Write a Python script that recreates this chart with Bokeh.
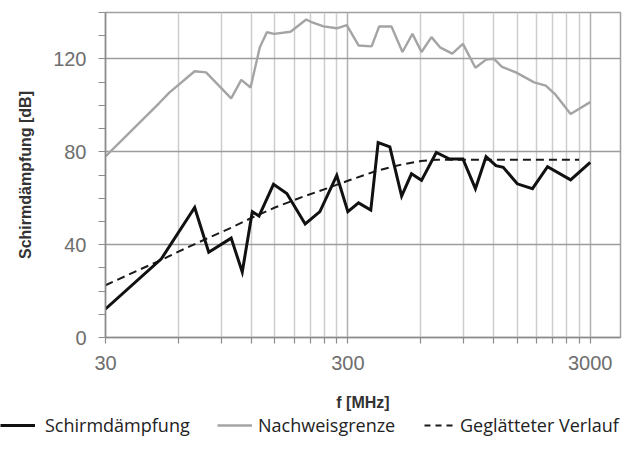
from bokeh.plotting import figure
from bokeh.layouts import column
from bokeh.models import FixedTicker, NumeralTickFormatter, Legend, LegendItem, Range1d
from bokeh.embed import file_html
from bokeh.resources import INLINE

# Schirmdämpfung (shielding attenuation)
f_sd = [30, 51, 70, 80, 99, 110, 121, 129, 148, 168, 200, 230, 270, 300, 332, 373,
        400, 447, 500, 549, 604, 695, 789, 895, 1008, 1115, 1225, 1313, 1500, 1733,
        2000, 2490, 3000]
db_sd = [12.3, 33.9, 56, 36.7, 42.8, 28.2, 54.2, 52.3, 66, 62, 48.9, 54.2, 69.8, 54.2,
         58, 54.9, 84, 82.1, 60.9, 70.5, 67.7, 79.7, 76.9, 76.9, 64.1, 77.9, 74, 73.3,
         66.2, 64.1, 73.6, 67.9, 75.4]

# Nachweisgrenze (detection limit)
f_nw = [30, 50, 55, 70, 78, 99, 109, 119, 130, 139, 149, 174, 202, 214, 238, 270, 297,
        332, 376, 404, 454, 504, 554, 604, 664, 720, 809, 895, 1008, 1115, 1200, 1298,
        1480, 1762, 1967, 2163, 2490, 3000]
db_nw = [78, 101, 105.5, 114.7, 114.2, 103, 111, 107.7, 125, 131.5, 130.8, 131.7, 137,
         135.7, 134, 133.2, 134.6, 125.8, 125.4, 134, 134, 123, 130.8, 123, 129.4, 125,
         122.3, 126.5, 116.2, 119.7, 120.1, 116.6, 114.2, 109.9, 108.5, 104.5, 96.3, 101.4]

# Geglätteter Verlauf (smoothed)
f_gv = [30, 40, 50, 60, 80, 100, 120, 150, 200, 250, 300, 400, 500, 600, 700, 2700]
db_gv = [22.5, 28.5, 33, 37, 43, 47.5, 51.5, 56, 61, 64.5, 67.5, 72, 74.5, 76, 76.6, 76.6]

x_ticks = [30, 300, 3000]
x_minor = [60, 90, 120, 150, 180, 210, 240, 270, 600, 900, 1200, 1500, 1800, 2100, 2400, 2700]
y_ticks = [0, 40, 80, 120]
y_minor = [10, 20, 30, 50, 60, 70, 90, 100, 110, 130, 140]

labels = ["Schirmdämpfung", "Nachweisgrenze", "Geglätteter Verlauf"]

STYLE_SD = dict(line_color="#111111", line_width=3)
STYLE_NW = dict(line_color="#a4a4a4", line_width=2.4)
STYLE_GV = dict(line_color="#1a1a1a", line_width=2, line_dash="8 5")

p = figure(width=624, height=413, x_axis_type="log",
           x_range=Range1d(30, 4000), y_range=Range1d(0, 140),
           output_backend="svg", toolbar_location=None,
           min_border_left=105, min_border_right=4, min_border_top=12, min_border_bottom=75)
p.background_fill_color = "white"
p.border_fill_color = "white"
p.outline_line_color = "#a0a0a0"
p.outline_line_width = 1.5

# grids
p.xgrid.ticker = FixedTicker(ticks=x_ticks, minor_ticks=x_minor)
p.xgrid.grid_line_color = "#b0b0b0"
p.xgrid.grid_line_width = 1.5
p.xgrid.minor_grid_line_color = "#cdcdcd"
p.xgrid.minor_grid_line_width = 1.5
p.ygrid.ticker = FixedTicker(ticks=y_ticks, minor_ticks=y_minor)
p.ygrid.grid_line_color = "#9c9c9c"
p.ygrid.grid_line_width = 1.5

# axes
for ax in (p.xaxis[0], p.yaxis[0]):
    ax.axis_line_color = "#8c8c8c"
    ax.axis_line_width = 1.5
    ax.major_tick_line_color = "#8c8c8c"
    ax.minor_tick_line_color = "#8c8c8c"
    ax.major_tick_line_width = 1.2
    ax.minor_tick_line_width = 1.2
    ax.major_tick_in = 0
    ax.minor_tick_in = 0
    ax.major_label_text_font = "Liberation Sans"
    ax.major_label_text_font_size = "20px"
    ax.major_label_text_color = "#6e6e6e"
    ax.axis_label_text_font = "Liberation Sans"
    ax.axis_label_text_font_style = "bold"
    ax.axis_label_text_color = "#333333"
    ax.axis_label_text_font_size = "16px"
    ax.formatter = NumeralTickFormatter(format="0")

p.xaxis.ticker = FixedTicker(ticks=x_ticks, minor_ticks=x_minor)
p.yaxis.ticker = FixedTicker(ticks=y_ticks, minor_ticks=y_minor)
p.xaxis.major_tick_out = 6
p.xaxis.minor_tick_out = 6
p.yaxis.major_tick_out = 7
p.yaxis.minor_tick_out = 7
p.yaxis.major_label_standoff = 12
p.xaxis.major_label_standoff = 12
p.yaxis.axis_label = "Schirmdämpfung [dB]"
p.xaxis.axis_label = "f [MHz]"
p.yaxis.axis_label_standoff = 16
p.xaxis.axis_label_standoff = 21

p.line(f_nw, db_nw, **STYLE_NW)
p.line(f_gv, db_gv, **STYLE_GV)
p.line(f_sd, db_sd, line_join="miter", **STYLE_SD)

# legend strip below the chart (its ranges keep the series out of view;
# only the legend samples and labels are drawn)
q = figure(width=624, height=24, output_backend="svg", toolbar_location=None,
           x_range=Range1d(0, 1), y_range=Range1d(0, 1), min_border=0)
q.frame_align = False
q.axis.visible = False
q.grid.visible = False
q.outline_line_color = None
q.background_fill_color = "white"
q.border_fill_color = "white"
l_sd = q.line(f_sd, db_sd, **STYLE_SD)
l_nw = q.line(f_nw, db_nw, **STYLE_NW)
l_gv = q.line(f_gv, db_gv, line_color="#1a1a1a", line_width=2, line_dash="6 5")

legend_specs = [(labels[0], l_sd, 0, 35, 10),
                (labels[1], l_nw, 217, 35, 6),
                (labels[2], l_gv, 424, 29, 7)]
for lab, rend, xpos, gw, so in legend_specs:
    lg = Legend(items=[LegendItem(label=lab, renderers=[rend])],
                orientation="horizontal", location=(xpos, 0),
                border_line_color=None, background_fill_alpha=0,
                padding=0, margin=0, glyph_width=gw, glyph_height=18,
                label_standoff=so, label_text_font="Open Sans",
                label_text_font_size="18px", label_text_color="#222222")
    q.add_layout(lg)

layout = column(p, q, spacing=0)
open("out.html", "w").write(file_html(layout, INLINE))
